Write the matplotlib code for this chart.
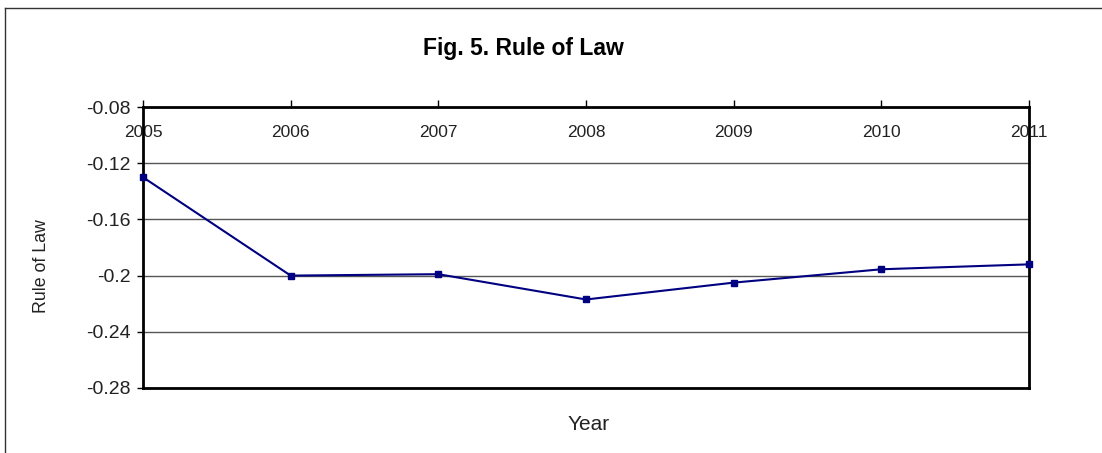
#!/usr/bin/env python3
"""Fig. 5 - Rule of Law index by year, drawn as a simple line chart."""

import matplotlib
matplotlib.use('Agg')
import matplotlib.pyplot as plt
from matplotlib.lines import Line2D

OUTPUT_WIDTH = 1102  # px
OUTPUT_HEIGHT = 453  # px
DPI = 100

# Data
years = [2005, 2006, 2007, 2008, 2009, 2010, 2011]
rule_of_law = [-0.130, -0.200, -0.199, -0.217, -0.205, -0.1955, -0.192]

y_ticks = [-0.28, -0.24, -0.20, -0.16, -0.12, -0.08]
y_tick_labels = ['-0.28', '-0.24', '-0.2', '-0.16', '-0.12', '-0.08']

plt.rcParams['font.family'] = ['Liberation Sans', 'DejaVu Sans']

fig = plt.figure(figsize=(OUTPUT_WIDTH / DPI, OUTPUT_HEIGHT / DPI), dpi=DPI)
fig.patch.set_facecolor('white')

# Outer chart frame (only top and left edges fall inside the image)
fig.add_artist(Line2D([5 / OUTPUT_WIDTH, 1.0], [1 - 8 / OUTPUT_HEIGHT] * 2,
                      transform=fig.transFigure, color='#333333', linewidth=1))
fig.add_artist(Line2D([5 / OUTPUT_WIDTH] * 2, [0.0, 1 - 8 / OUTPUT_HEIGHT],
                      transform=fig.transFigure, color='#333333', linewidth=1))

ax = fig.add_axes([143 / OUTPUT_WIDTH, 1 - 388 / OUTPUT_HEIGHT,
                   886 / OUTPUT_WIDTH, 281 / OUTPUT_HEIGHT])

ax.plot(years, rule_of_law, color='#000080', linewidth=1.5,
        marker='s', markersize=5, markerfacecolor='#000080',
        markeredgecolor='#000080', clip_on=False, zorder=3)

ax.set_xlim(years[0], years[-1])
ax.set_ylim(-0.28, -0.08)

# Years along the top edge, labels tucked just under it
ax.set_xticks(years)
ax.set_xticklabels([str(y) for y in years])
ax.xaxis.set_ticks_position('top')
ax.tick_params(axis='x', which='both', top=True, bottom=False,
               labeltop=True, labelbottom=False, direction='out',
               length=5, width=1, color='black', pad=-29,
               labelsize=12.5, labelcolor='#222222')

ax.set_yticks(y_ticks, labels=y_tick_labels)
ax.tick_params(axis='y', direction='out', length=4, width=1,
               color='black', labelsize=14, labelcolor='#222222', pad=5)

ax.grid(True, axis='y', color='#555555', linewidth=1)
ax.set_axisbelow(True)

for side in ['top', 'bottom', 'left', 'right']:
    ax.spines[side].set_color('black')
    ax.spines[side].set_linewidth(2)

fig.text(523 / OUTPUT_WIDTH, 1 - 48 / OUTPUT_HEIGHT, 'Fig. 5. Rule of Law',
         ha='center', va='center', fontsize=16.5, fontweight='bold', color='black')
fig.text(41 / OUTPUT_WIDTH, 1 - 266 / OUTPUT_HEIGHT, 'Rule of Law',
         ha='center', va='center', rotation=90, fontsize=12.8, color='#222222')
fig.text(589 / OUTPUT_WIDTH, 1 - 424 / OUTPUT_HEIGHT, 'Year',
         ha='center', va='center', fontsize=15, color='#222222')

fig.savefig('out.png', dpi=DPI, facecolor='white')
plt.close(fig)
